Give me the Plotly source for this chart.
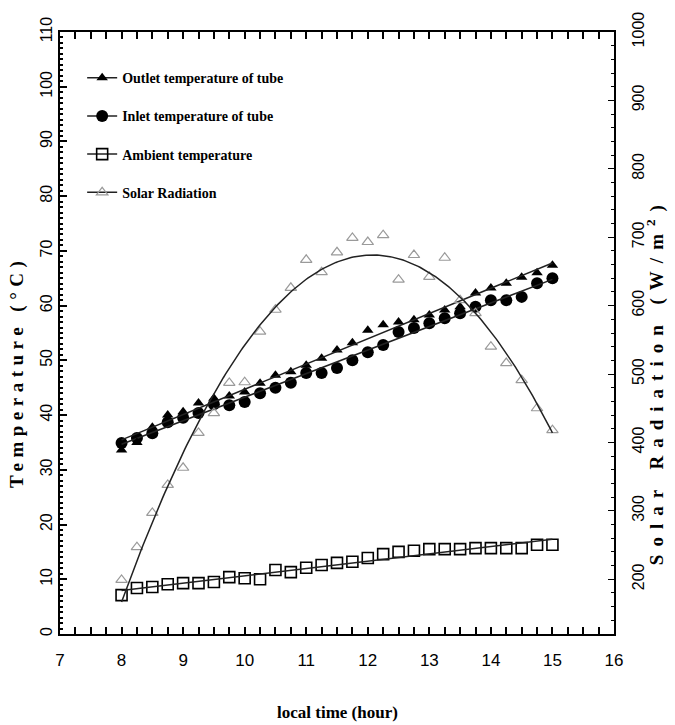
import numpy as np
import plotly.graph_objects as go

# ---------------- data ----------------
hours = [8.0, 8.25, 8.5, 8.75, 9.0, 9.25, 9.5, 9.75, 10.0, 10.25, 10.5, 10.75,
         11.0, 11.25, 11.5, 11.75, 12.0, 12.25, 12.5, 12.75, 13.0, 13.25, 13.5,
         13.75, 14.0, 14.25, 14.5, 14.75, 15.0]

outlet_temp = [33.6, 35.0, 37.8, 40.0, 40.6, 42.2, 43.1, 43.5, 44.2, 45.8, 47.3, 47.9,
               49.1, 50.4, 51.9, 53.2, 55.5, 56.5, 57.0, 57.4, 58.3, 59.2, 59.8,
               62.3, 63.2, 64.1, 65.2, 66.0, 67.4]

inlet_temp = [34.9, 35.8, 36.7, 38.7, 39.5, 40.4, 42.0, 41.8, 42.4, 44.0, 45.0, 45.9,
              47.7, 47.7, 48.6, 50.0, 51.5, 52.8, 55.2, 55.9, 56.8, 57.7, 58.6,
              59.8, 61.0, 61.0, 61.6, 64.1, 65.0]

ambient_temp = [7.1, 8.4, 8.6, 9.1, 9.3, 9.3, 9.5, 10.4, 10.2, 10.0, 11.7, 11.3,
                12.1, 12.6, 13.0, 13.2, 13.9, 14.6, 15.0, 15.2, 15.5, 15.5, 15.5,
                15.7, 15.7, 15.7, 15.7, 16.3, 16.3]

solar_rad = [199, 247, 297, 338, 363, 414, 443, 487, 488, 562, 594, 626,
             667, 649, 678, 699, 693, 703, 638, 674, 642, 670, 608,
             589, 540, 516, 491, 450, 418]

names = ["Outlet temperature of tube", "Inlet temperature of tube",
         "Ambient temperature", "Solar Radiation"]

x_ticks = list(range(7, 17))
y_ticks = list(range(0, 111, 10))
y2_ticks = list(range(200, 1001, 100))

# ---------------- fitted curves (regressions of the data) ----------------
x_arr = np.array(hours)
x_fit = np.linspace(x_arr.min(), x_arr.max(), 200)
fit_out = np.polyval(np.polyfit(x_arr, outlet_temp, 1), x_fit)
fit_in = np.polyval(np.polyfit(x_arr, inlet_temp, 1), x_fit)
fit_amb = np.polyval(np.polyfit(x_arr, ambient_temp, 1), x_fit)
fit_sol = np.polyval(np.polyfit(x_arr, solar_rad, 2), x_fit)

fig = go.Figure()

line_style = dict(color="#222222", width=1.5)
serif = "Liberation Serif, Times New Roman, serif"
sans = "Liberation Sans, Arial, sans-serif"
narrow = "Liberation Sans Narrow, Liberation Sans, Arial, sans-serif"

markers = [
    dict(symbol="triangle-up", size=10, color="black"),
    dict(symbol="circle", size=12, color="black"),
    dict(symbol="square-open", size=11, color="black", line=dict(width=1.6, color="black")),
    dict(symbol="triangle-up-open", size=10, color="#9a9a9a", line=dict(width=1.2, color="#9a9a9a")),
]

# temperature series (left axis)
for series, fit, mk in [(ambient_temp, fit_amb, markers[2]),
                        (inlet_temp, fit_in, markers[1]),
                        (outlet_temp, fit_out, markers[0])]:
    fig.add_trace(go.Scatter(x=hours, y=series, mode="markers", marker=mk,
                             showlegend=False, yaxis="y"))
    fig.add_trace(go.Scatter(x=x_fit, y=fit, mode="lines", line=line_style,
                             showlegend=False, yaxis="y"))

# solar radiation (right axis)
fig.add_trace(go.Scatter(x=hours, y=solar_rad, mode="markers", marker=markers[3],
                         showlegend=False, yaxis="y2"))
fig.add_trace(go.Scatter(x=x_fit, y=fit_sol, mode="lines", line=line_style,
                         showlegend=False, yaxis="y2"))

# legend entries
for i, nm in enumerate(names):
    fig.add_trace(go.Scatter(x=[None], y=[None], mode="lines+markers", name=nm,
                             marker=markers[i], line=line_style,
                             legendgroup=str(i), yaxis="y"))

axis_common = dict(showline=True, linecolor="black", linewidth=2, ticks="inside",
                   tickcolor="black", showgrid=False, zeroline=False)

fig.update_layout(
    width=675, height=725,
    margin=dict(l=60, r=61, t=32, b=91),
    paper_bgcolor="white", plot_bgcolor="white",
    xaxis=dict(range=[7, 16], tickvals=x_ticks, ticklen=7, tickwidth=1.5,
               mirror="allticks",
               minor=dict(dtick=0.25, ticklen=4, tickcolor="black", ticks="inside"),
               tickfont=dict(family=narrow, size=17, color="black"),
               ticklabelstandoff=10, **axis_common),
    yaxis=dict(range=[0, 110], tickvals=y_ticks, ticklen=7, tickwidth=1.5,
               tickangle=-90,
               minor=dict(dtick=1, ticklen=3, tickcolor="black", ticks="inside"),
               tickfont=dict(family=sans, size=16, color="black"),
               ticklabelstandoff=0, **axis_common),
    yaxis2=dict(range=[120, 1000], tickvals=y2_ticks, ticklen=6, tickwidth=1.2,
                overlaying="y", side="right", tickangle=-90,
                minor=dict(dtick=20, ticklen=3, tickcolor="black", ticks="inside"),
                tickfont=dict(family=sans, size=16, color="black"),
                ticklabelstandoff=9, **axis_common),
    legend=dict(x=0.04, y=0.95, xanchor="left", yanchor="top",
                bgcolor="rgba(0,0,0,0)", traceorder="grouped", tracegroupgap=17,
                font=dict(family=serif, size=14, color="black", weight="bold"),
                itemwidth=30),
    annotations=[
        dict(text="Temperature (°C)", xref="paper", yref="paper", x=-0.078, y=0.435,
             textangle=-90, showarrow=False, xanchor="center", yanchor="middle",
             font=dict(family=serif, size=19, color="black", weight="bold")),
        dict(text="Solar Radiation (W/m<sup>2</sup>)", xref="paper", yref="paper",
             x=1.074, y=0.42, textangle=-90, showarrow=False,
             xanchor="center", yanchor="middle",
             font=dict(family=serif, size=19, color="black", weight="bold")),
        dict(text="local time (hour)", xref="paper", yref="paper", x=0.5, y=-0.131,
             showarrow=False, xanchor="center", yanchor="middle",
             font=dict(family=serif, size=17, color="black", weight="bold")),
    ],
)

post = """
document.body.style.margin = '0';
document.querySelectorAll('text.annotation-text').forEach(function (t) {
  var s = t.textContent;
  if (s.indexOf('Temperature') === 0) { t.style.letterSpacing = '5.5px'; }
  if (s.indexOf('Solar Radiation (') === 0) { t.style.letterSpacing = '8px'; }
});
"""

fig.write_html("out.html", post_script=post, config={"displayModeBar": False})
